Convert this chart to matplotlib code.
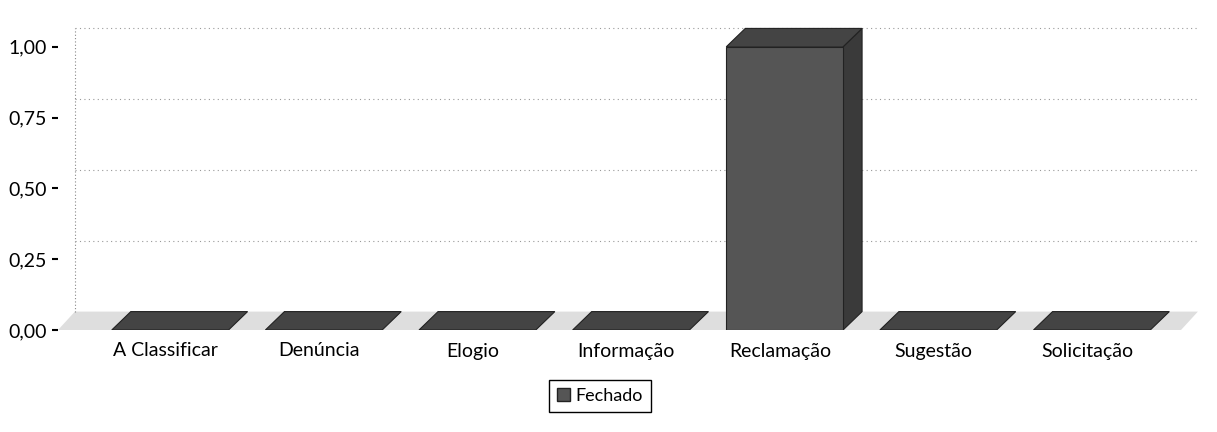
import matplotlib
matplotlib.use("Agg")
import matplotlib.pyplot as plt
from matplotlib.patches import Polygon, Patch
from matplotlib.ticker import FuncFormatter

categories = ["A Classificar", "Denúncia", "Elogio", "Informação", "Reclamação", "Sugestão", "Solicitação"]
fechado = [0, 0, 0, 0, 1, 0, 0]
yticks = [0.0, 0.25, 0.5, 0.75, 1.0]
series_name = "Fechado"

plt.rcParams['font.family'] = ['Lato', 'DejaVu Sans']

W, H = 1217, 432
fig = plt.figure(figsize=(W / 100, H / 100), dpi=100)
ax = fig.add_axes([58 / W, 1 - 330 / H, (1181 - 58) / W, (330 - 27) / H])
ax.set_xlim(-0.73, 6.58)
ax.set_ylim(0, 1.07)

dx, dy = 0.11, 0.065
bw = 0.76
x0, x1 = ax.get_xlim()

# floor
ax.add_patch(Polygon([(x0, 0), (x0 + dx, dy), (x1 + dx, dy), (x1, 0)], closed=True,
                     facecolor='#dedede', edgecolor='none', zorder=1, clip_on=False))
# back wall left edge
ax.plot([x0 + dx, x0 + dx], [dy, 1 + dy], ls=(0, (1, 2)), color='#888888', lw=0.8, zorder=1, clip_on=False)
# back gridlines
for v in yticks[1:]:
    ax.plot([x0 + dx, x1 + dx], [v + dy, v + dy], ls=(0, (1, 3)), color='#999999', lw=0.8, zorder=1, clip_on=False)

front_c = '#555555'
side_c = '#3a3a3a'
top_c = '#444444'
ddx = 0.124
for i, v in enumerate(fechado):
    l, r = i - bw / 2, i + bw / 2
    if v > 0:
        ax.add_patch(Polygon([(r, 0), (r + ddx, dy), (r + ddx, v + dy), (r, v)], closed=True,
                             facecolor=side_c, edgecolor='#222222', lw=0.8, zorder=3))
        ax.bar(i, v, width=bw, color=front_c, edgecolor='#222222', lw=0.8, zorder=4)
    ax.add_patch(Polygon([(l, v), (l + ddx, v + dy), (r + ddx, v + dy), (r, v)], closed=True,
                         facecolor=top_c, edgecolor='#222222', lw=0.8, zorder=5))

ax.set_xticks([i - 0.03 for i in range(len(categories))])
ax.set_xticklabels(categories, fontsize=14)
ax.tick_params(axis='x', length=0, pad=9)
ax.set_yticks(yticks)
ax.yaxis.set_major_formatter(FuncFormatter(lambda v, p: f"{v:.2f}".replace('.', ',')))
ax.tick_params(axis='y', length=4, width=1.5, direction='out', labelsize=14, pad=4)
for s in ax.spines.values():
    s.set_visible(False)
ax.patch.set_alpha(0)

leg = fig.legend(handles=[Patch(facecolor=front_c, edgecolor='#222222', label=series_name)],
                 loc='center', bbox_to_anchor=(600 / W, 1 - 396 / H), fontsize=13,
                 fancybox=False, edgecolor='black', handlelength=0.7, handleheight=0.7,
                 handletextpad=0.3, borderpad=0.45, framealpha=1)
leg.get_frame().set_linewidth(1.0)

fig.savefig("out.png", dpi=100)
